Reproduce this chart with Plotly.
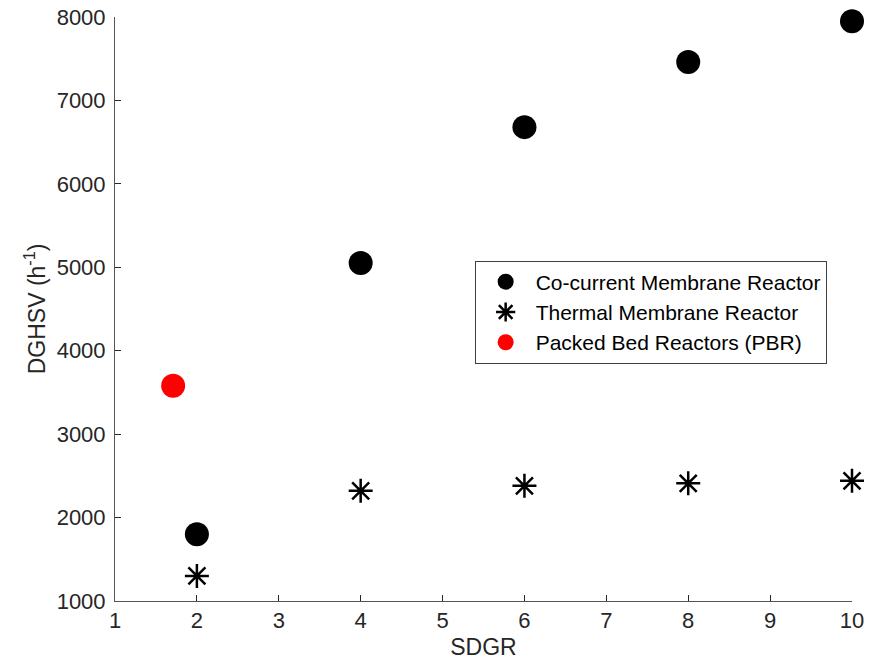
import plotly.graph_objects as go

sdgr = [2, 4, 6, 8, 10]
cocurrent = [1800, 5050, 6680, 7460, 7950]
thermal = [1300, 2320, 2380, 2410, 2440]
pbr_x = [1.71]
pbr_y = [3580]

font = "Liberation Sans, Arial, Helvetica, sans-serif"

fig = go.Figure()
fig.add_trace(go.Scatter(x=sdgr, y=cocurrent, mode="markers", name="Co-current Membrane Reactor",
                         cliponaxis=False,
                         marker=dict(symbol="circle", size=24, color="black")))
fig.add_trace(go.Scatter(x=sdgr, y=thermal, mode="markers", name="Thermal Membrane Reactor",
                         cliponaxis=False,
                         marker=dict(symbol="asterisk-open", size=20, color="black",
                                     line=dict(width=2.5, color="black"))))
fig.add_trace(go.Scatter(x=pbr_x, y=pbr_y, mode="markers", name="Packed Bed Reactors (PBR)",
                         cliponaxis=False,
                         marker=dict(symbol="circle", size=24, color="red")))

fig.update_layout(
    width=875, height=664,
    margin=dict(l=107, r=31, t=9, b=71, autoexpand=False),
    plot_bgcolor="white", paper_bgcolor="white",
    font=dict(family=font, size=22, color="#262626"),
    showlegend=True,
    legend=dict(x=0.488, y=0.583, xanchor="left", yanchor="top",
                bgcolor="white", bordercolor="#404040", borderwidth=1,
                font=dict(size=21, color="black"), itemwidth=50,
                tracegroupgap=0),
)
fig.update_xaxes(range=[1, 10], dtick=1, showgrid=False, zeroline=False,
                 showline=True, linecolor="#555555", linewidth=1, automargin=False,
                 ticks="inside", ticklen=6, tickcolor="#262626", ticklabeloverflow="allow",
                 title=dict(text="SDGR", standoff=6, font=dict(size=23)))
fig.update_yaxes(range=[1000, 8000], dtick=1000, showgrid=False, zeroline=False,
                 showline=True, linecolor="#555555", linewidth=1, automargin=False,
                 ticks="inside", ticklen=6, tickcolor="#262626", ticklabelstandoff=4,
                 ticklabeloverflow="allow",
                 title=dict(text="DGHSV (h<sup>-1</sup>)", standoff=4, font=dict(size=23)))

fig.write_html("out.html")
